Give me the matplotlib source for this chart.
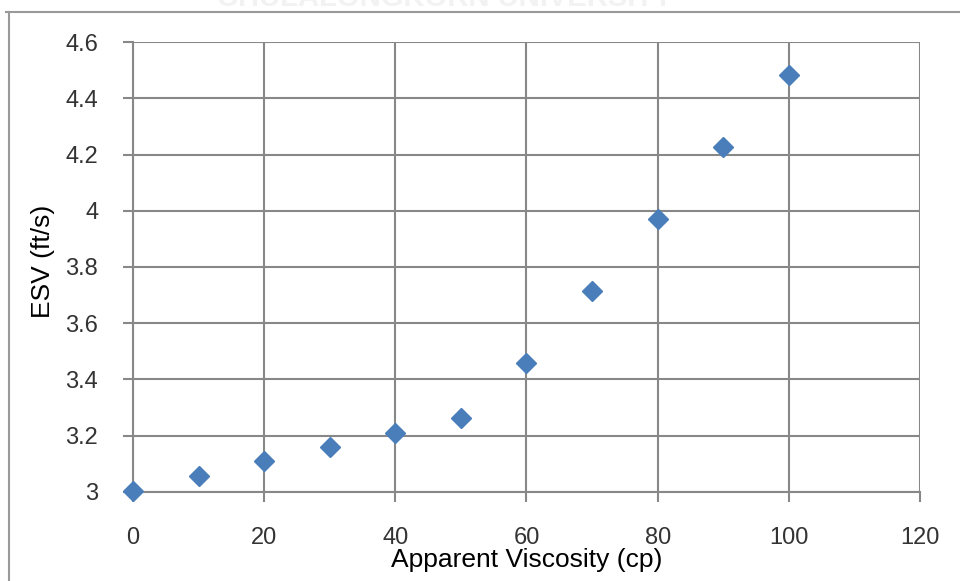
import matplotlib
matplotlib.use('Agg')
import matplotlib.pyplot as plt
from matplotlib.lines import Line2D

# ESV against apparent viscosity
viscosity = [0, 10, 20, 30, 40, 50, 60, 70, 80, 90, 100]
esv = [3.004, 3.057, 3.109, 3.160, 3.211, 3.263, 3.459, 3.714, 3.970, 4.226, 4.482]

x_ticks = [0, 20, 40, 60, 80, 100, 120]
y_ticks = [3, 3.2, 3.4, 3.6, 3.8, 4, 4.2, 4.4, 4.6]
y_tick_labels = ['3', '3.2', '3.4', '3.6', '3.8', '4', '4.2', '4.4', '4.6']

plt.rcParams['font.family'] = ['Liberation Sans', 'DejaVu Sans']
grid_color = '#888888'

fig = plt.figure(figsize=(9.6, 5.81), dpi=100)
ax = fig.add_axes([0.1385, 0.1532, 0.8198, 0.7745])

# faint header text cut off by the top edge
fig.text(0.463, 1.004, 'CHULALONGKORN UNIVERSITY', ha='center', va='center',
         fontsize=21, fontweight='bold', color='#f2f2f2', zorder=0)

# outer frame lines
fig.add_artist(Line2D([0.006, 1.0], [0.979, 0.979], transform=fig.transFigure,
                      color='#999999', lw=1.5))
fig.add_artist(Line2D([0.0095, 0.0095], [0.0, 0.979], transform=fig.transFigure,
                      color='#999999', lw=1.5))

ax.plot(viscosity, esv, linestyle='none', marker='D', markersize=10,
        color='#4a7ebb', markeredgecolor='#4a7ebb', zorder=5, clip_on=False)

ax.set_xlim(0, 120)
ax.set_ylim(3, 4.6)
ax.set_xticks(x_ticks)
ax.set_yticks(y_ticks)
ax.set_yticklabels(y_tick_labels)

ax.grid(True, color=grid_color, linewidth=1.5)
ax.set_axisbelow(True)
for side in ['left', 'bottom']:
    ax.spines[side].set_color(grid_color)
    ax.spines[side].set_linewidth(1.5)
for side in ['top', 'right']:
    ax.spines[side].set_visible(False)

ax.tick_params(axis='both', direction='out', length=7, width=1.5, color=grid_color,
               labelsize=17, labelcolor='#333333')
ax.tick_params(axis='y', pad=18)
ax.tick_params(axis='x', pad=18)

ax.set_xlabel('Apparent Viscosity (cp)', fontsize=19, color='#000000', va='center')
ax.set_ylabel('ESV (ft/s)', fontsize=19, color='#000000', va='center')
ax.xaxis.set_label_coords(0.5, -0.151)
ax.yaxis.set_label_coords(-0.114, 0.513)

fig.savefig('out.png', dpi=100)
